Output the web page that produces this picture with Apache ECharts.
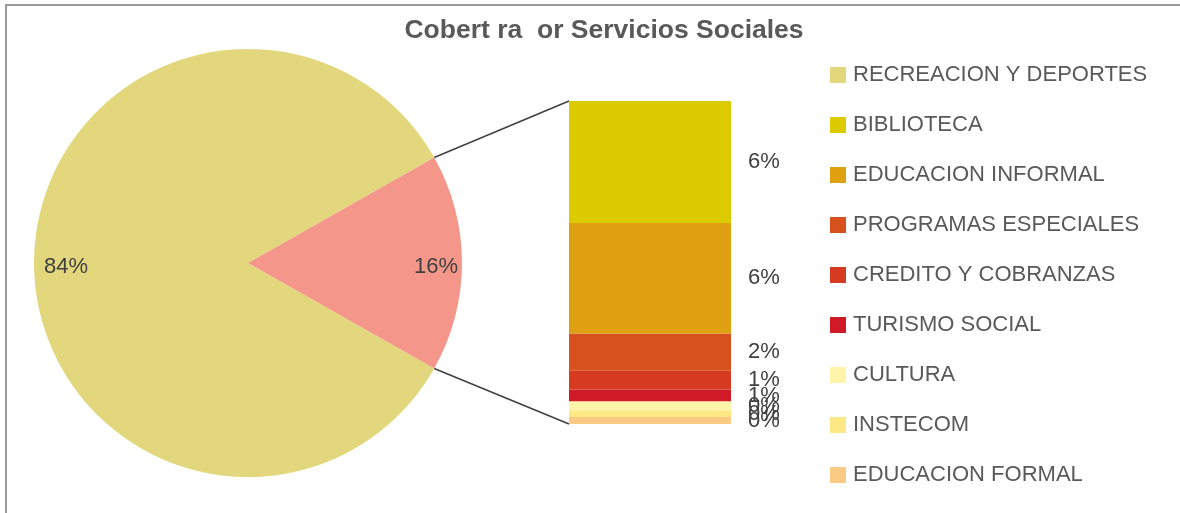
<!DOCTYPE html>
<html>
<head>
<meta charset="utf-8">
<script src="https://cdn.jsdelivr.net/npm/echarts@6/dist/echarts.min.js"></script>
<style>
  html, body { margin: 0; padding: 0; background: #fff; }
  #chart { width: 1180px; height: 513px; }
</style>
</head>
<body>
<div id="chart"></div>
<script>
// pie: big slice + the rest, which is split out in the bar
const mainName = 'RECREACION Y DEPORTES'
const mainValue = 83.6
const mainColor = '#E2D77C'
const otherColor = '#F4978A'

// bar parts, top to bottom (same order as legend)
const barNames = ['BIBLIOTECA', 'EDUCACION INFORMAL', 'PROGRAMAS ESPECIALES',
  'CREDITO Y COBRANZAS', 'TURISMO SOCIAL', 'CULTURA', 'INSTECOM', 'EDUCACION FORMAL']
const barValues = [6.2, 5.6, 1.9, 0.95, 0.6, 0.45, 0.35, 0.35]
const barColors = ['#DCCB00', '#DFA111', '#D6511D', '#D63B22', '#D11A27',
  '#FEF4AA', '#FCE985', '#FBCB86']

const otherValue = barValues.reduce((a, b) => a + b, 0)

const chart = echarts.init(document.getElementById('chart'))

const cx = 248, cy = 263, r = 214
const gLeft = 569, gTop = 101, gW = 162, gH = 323
const half = otherValue / (mainValue + otherValue) * 180
const startAngle = 360 - half

const labelFont = { fontFamily: 'Liberation Sans', fontSize: 22, color: '#404040' }

const pieData = [
  { name: mainName, value: mainValue, itemStyle: { color: mainColor } },
  { name: 'Otro', value: otherValue, itemStyle: { color: otherColor } }
]

// bar series stack bottom-up, so reverse
const barSeries = barNames.map((n, i) => ({
  name: n,
  type: 'bar',
  stack: 'otro',
  barWidth: gW,
  data: [barValues[i]],
  itemStyle: { color: barColors[i] },
  label: {
    show: true,
    position: 'right',
    distance: 17,
    ...labelFont,
    formatter: (p) => Math.round(p.value) + '%'
  },
  z: 2
})).reverse()

const rad = half * Math.PI / 180
const ex = cx + r * Math.cos(rad)
const ey1 = cy - r * Math.sin(rad)
const ey2 = cy + r * Math.sin(rad)

const option = {
  animation: false,
  title: {
    text: 'Cobert ra  or Servicios Sociales',
    left: 604,
    textAlign: 'center',
    top: 17,
    padding: 0,
    textStyle: { fontFamily: 'Liberation Sans', fontSize: 26.5, fontWeight: 'bold', color: '#595959' }
  },
  legend: {
    orient: 'vertical',
    left: 830,
    top: 64,
    padding: 0,
    itemWidth: 16,
    itemHeight: 16,
    itemGap: 28,
    icon: 'rect',
    selectedMode: false,
    data: [mainName, ...barNames],
    textStyle: { fontFamily: 'Liberation Sans', fontSize: 22, color: '#595959', padding: [0, 0, 0, 2] }
  },
  grid: { left: gLeft, top: gTop, width: gW, height: gH },
  xAxis: { type: 'category', data: ['otro'], show: false },
  yAxis: { type: 'value', min: 0, max: otherValue, show: false },
  series: [
    {
      type: 'pie',
      center: [cx, cy],
      radius: [0, r],
      startAngle: startAngle,
      clockwise: true,
      silent: true,
      label: { show: false },
      labelLine: { show: false },
      data: pieData
    },
    {
      // transparent ring only to put labels near the rim
      type: 'pie',
      center: [cx, cy],
      radius: [150, r],
      startAngle: startAngle,
      clockwise: true,
      silent: true,
      label: {
        show: true,
        position: 'inside',
        offset: [3, 4],
        ...labelFont,
        formatter: (p) => Math.round(p.percent) + '%'
      },
      labelLine: { show: false },
      data: pieData.map(d => ({ name: d.name, value: d.value, itemStyle: { color: 'transparent' } })),
      legendHoverLink: false
    },
    ...barSeries
  ],
  graphic: [
    { type: 'rect', shape: { x: 6, y: 5, width: 1300, height: 700 },
      style: { fill: 'none', stroke: '#9a9a9a', lineWidth: 2 }, silent: true },
    { type: 'line', shape: { x1: ex, y1: ey1, x2: gLeft, y2: gTop },
      style: { stroke: '#404040', lineWidth: 1.5 } },
    { type: 'line', shape: { x1: ex, y1: ey2, x2: gLeft, y2: gTop + gH },
      style: { stroke: '#404040', lineWidth: 1.5 } }
  ]
}

chart.setOption(option)
window.addEventListener('resize', () => chart.resize())
</script>
</body>
</html>
